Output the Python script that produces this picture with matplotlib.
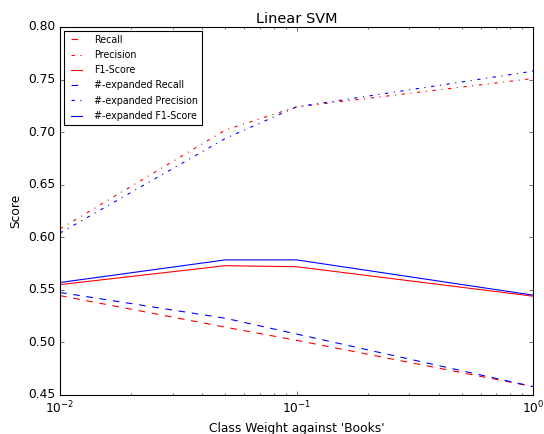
import numpy as np
import matplotlib
matplotlib.use('Agg')
import matplotlib.pyplot as plt

plt.style.use('classic')

# Данные
weights = [0.01, 0.05, 0.1, 1.0]

recall = [0.5445, 0.5145, 0.502, 0.458]
precision = [0.608, 0.702, 0.724, 0.751]
f1 = [0.555, 0.573, 0.572, 0.544]

exp_recall = [0.5475, 0.523, 0.508, 0.458]
exp_precision = [0.604, 0.694, 0.724, 0.758]
exp_f1 = [0.557, 0.5785, 0.5785, 0.545]

fig = plt.figure(figsize=(6.8, 5.425), dpi=80)
ax = fig.add_axes([60 / 544, 39 / 434, 473 / 544, 368 / 434])

ax.plot(weights, recall, color='red', linestyle='--', label='Recall')
ax.plot(weights, precision, color='red', linestyle='-.', label='Precision')
ax.plot(weights, f1, color='red', linestyle='-', label='F1-Score')
ax.plot(weights, exp_recall, color='blue', linestyle='--', label='#-expanded Recall')
ax.plot(weights, exp_precision, color='blue', linestyle='-.', label='#-expanded Precision')
ax.plot(weights, exp_f1, color='blue', linestyle='-', label='#-expanded F1-Score')

ax.set_xscale('log')
ax.set_xlim(0.01, 1)
ax.set_ylim(0.45, 0.80)
ax.set_title('Linear SVM', fontsize=13, pad=4)
ax.set_xlabel("Class Weight against 'Books'", fontsize=11)
ax.set_ylabel('Score', fontsize=11)
ax.tick_params(labelsize=11)
ax.legend(loc='upper left', fontsize=8.6, handlelength=1.75, handletextpad=1.0,
          borderaxespad=0.4, labelspacing=0.55)

fig.savefig('out.png', dpi=80)
